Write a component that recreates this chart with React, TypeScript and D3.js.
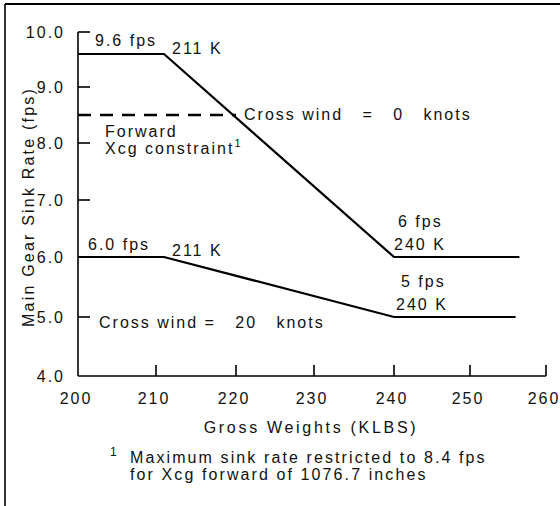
import React from "react";
import * as d3 from "d3";

// ---- data ----
const xTicks = [200, 210, 220, 230, 240, 250, 260];
const yTicks = [4, 5, 6, 7, 8, 9, 10];
const yTickLabels = ["4.0", "5.0", "6.0", "7.0", "8.0", "9.0", "10.0"];

const weightsWind0 = [200, 211, 240, 256.5];
const sinkWind0 = [9.6, 9.6, 6.0, 6.0];
const weightsWind20 = [200, 211, 240, 256];
const sinkWind20 = [6.0, 6.0, 5.0, 5.0];
const constraintWeights = [200, 220];
const constraintSink = [8.5, 8.5];

const xTitle = "Gross Weights (KLBS)";
const yTitle = "Main Gear Sink Rate (fps)";
const footnote1 = "Maximum sink rate restricted to 8.4 fps";
const footnote2 = "for Xcg forward of 1076.7 inches";

// annotations: anchor in data units + pixel offset
const annotations = [
  { text: "9.6 fps", x: 200, y: 9.6, dx: 17, dy: -8 },
  { text: "211 K", x: 211, y: 9.6, dx: 8, dy: 0 },
  { text: "Cross wind   =   0   knots", x: 220, y: 8.5, dx: 8, dy: 5 },
  { text: "Forward", x: 200, y: 8.5, dx: 27, dy: 22 },
  { text: "6 fps", x: 240, y: 6.0, dx: 4, dy: -30 },
  { text: "240 K", x: 240, y: 6.0, dx: 0, dy: -7 },
  { text: "5 fps", x: 240, y: 5.0, dx: 7, dy: -30 },
  { text: "240 K", x: 240, y: 5.0, dx: 2, dy: -7 },
  { text: "6.0 fps", x: 200, y: 6.0, dx: 10, dy: -7 },
  { text: "211 K", x: 211, y: 6.0, dx: 8, dy: -1 },
  { text: "Cross wind =   20   knots", x: 200, y: 5.0, dx: 21, dy: 11 },
];

export default function App() {
  const W = 560;
  const H = 506;
  // hand-drawn axis: tick positions are slightly irregular
  const x = d3.scaleLinear().domain(xTicks).range([78, 156, 236, 314, 394, 470, 546]);
  const y = d3.scaleLinear().domain(yTicks).range([376, 317, 257, 200, 143, 87, 32]);

  const line = d3
    .line<[number, number]>()
    .x((d) => x(d[0]))
    .y((d) => y(d[1]));

  const s0 = weightsWind0.map((w, i) => [w, sinkWind0[i]] as [number, number]);
  const s20 = weightsWind20.map((w, i) => [w, sinkWind20[i]] as [number, number]);
  const sc = constraintWeights.map((w, i) => [w, constraintSink[i]] as [number, number]);

  const font = "'Liberation Sans', Arial, Helvetica, sans-serif";
  const ls = 2;
  const x0 = x(200);
  const yBase = y(4);

  return (
    <svg
      width={W}
      height={H}
      style={{ position: "absolute", left: 0, top: 0, background: "#fff" }}
      fontFamily={font}
      fontSize={16}
      fill="#111"
    >
      {/* frame */}
      <line x1={5} y1={4} x2={W} y2={4} stroke="#000" strokeWidth={2} />
      <line x1={5} y1={4} x2={5} y2={H} stroke="#000" strokeWidth={1.6} />

      {/* axes */}
      <line x1={x0} y1={y(10)} x2={x0} y2={yBase} stroke="#000" strokeWidth={1.6} />
      <line x1={x0} y1={yBase} x2={x(260)} y2={yBase} stroke="#000" strokeWidth={1.6} />
      {yTicks.slice(1).map((t) => (
        <line key={"yt" + t} x1={x0} x2={x0 + 12} y1={y(t)} y2={y(t)} stroke="#000" strokeWidth={1.6} />
      ))}
      {xTicks.slice(1).map((t) => (
        <line key={"xt" + t} x1={x(t)} x2={x(t)} y1={yBase} y2={yBase - 11} stroke="#000" strokeWidth={1.6} />
      ))}
      {yTicks.map((t, i) => (
        <text
          key={"yl" + t}
          x={65}
          y={y(t)}
          dy="0.35em"
          textAnchor="end"
          letterSpacing={ls}
        >
          {yTickLabels[i]}
        </text>
      ))}
      {xTicks.map((t) => (
        <text key={"xl" + t} x={x(t) - 2} y={404} textAnchor="middle" letterSpacing={ls}>
          {t}
        </text>
      ))}

      {/* titles */}
      <text x={311} y={433} textAnchor="middle" letterSpacing={2.7}>
        {xTitle}
      </text>
      <text
        transform={`translate(34, ${207}) rotate(-90)`}
        textAnchor="middle"
        letterSpacing={2.2}
      >
        {yTitle}
      </text>

      {/* data lines */}
      <path d={line(s0) || ""} fill="none" stroke="#000" strokeWidth={2.2} />
      <path d={line(s20) || ""} fill="none" stroke="#000" strokeWidth={2.2} />
      <path d={line(sc) || ""} fill="none" stroke="#000" strokeWidth={2.4} strokeDasharray="13 9" />

      {/* annotations */}
      {annotations.map((a, i) => (
        <text
          key={"an" + i}
          x={x(a.x) + a.dx}
          y={y(a.y) + a.dy}
          letterSpacing={ls}
          style={{ whiteSpace: "pre" }}
        >
          {a.text}
        </text>
      ))}
      <text x={x(200) + 27} y={y(8.5) + 39} letterSpacing={ls}>
        Xcg constraint
        <tspan fontSize={11} dy={-7} letterSpacing={0}>1</tspan>
      </text>

      {/* footnote */}
      <text x={110} y={456} fontSize={12}>1</text>
      <text x={130} y={463} letterSpacing={2.1}>
        {footnote1}
      </text>
      <text x={130} y={480} letterSpacing={2.1}>
        {footnote2}
      </text>
    </svg>
  );
}
